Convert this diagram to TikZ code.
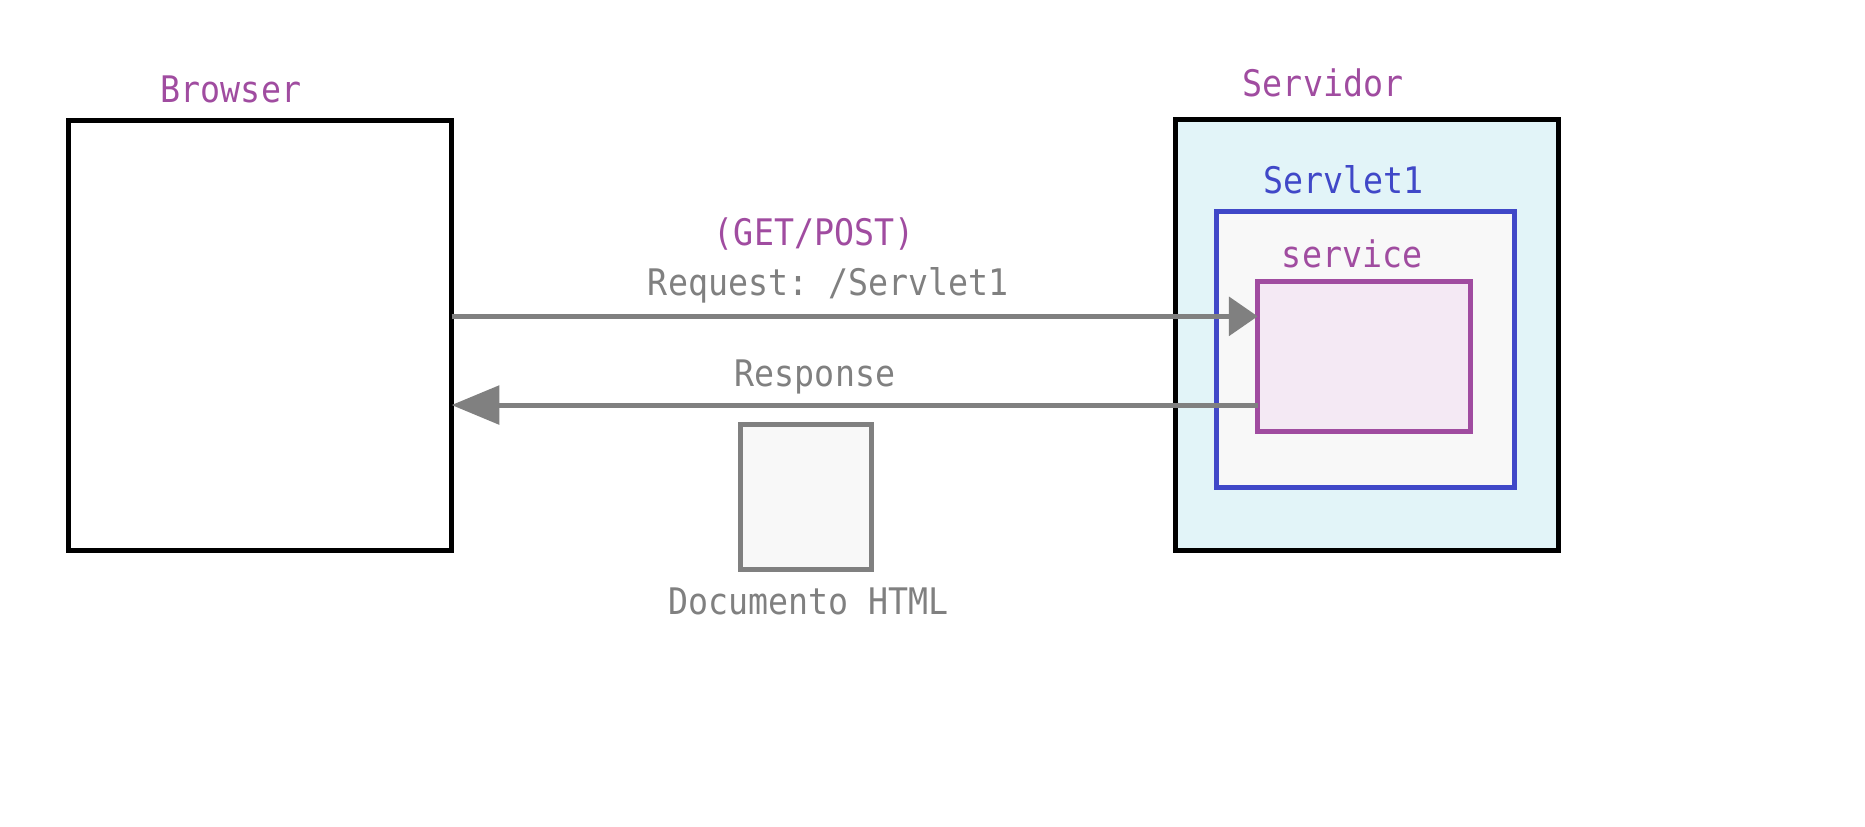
\documentclass[tikz,border=0pt]{standalone}
\usepackage{fontspec}
\setmonofont{DejaVu Sans Mono}[FakeStretch=0.91]
\usetikzlibrary{arrows.meta}
\definecolor{lblpurple}{RGB}{160,76,160}
\definecolor{lblblue}{RGB}{64,72,200}
\definecolor{linegray}{RGB}{128,128,128}
\definecolor{srvfill}{RGB}{226,244,248}
\definecolor{paper}{RGB}{248,248,248}
\definecolor{svcfill}{RGB}{244,233,244}
\begin{document}
\begin{tikzpicture}[x=0.5pt,y=-0.5pt,
  font=\ttfamily\fontsize{15.3pt}{17pt}\selectfont,
  box/.style={draw, line width=2.1pt, inner sep=0pt, outer sep=0pt, rectangle},
  lbl/.style={anchor=base, inner sep=0pt},
  conn/.style={draw=linegray, line width=2.1pt}]
\useasboundingbox (0,0) rectangle (1560,691);
% boxes
\node[box, fill=white, minimum width=160.2pt, minimum height=179.75pt] (browser) at (217.5,280.75) {};
\node[box, fill=srvfill, minimum width=160.15pt, minimum height=180pt] (servidor) at (1143.45,280.2) {};
\node[box, draw=lblblue, fill=paper, minimum width=124.6pt, minimum height=115.45pt] (servlet) at (1142.2,292.35) {};
\node[box, draw=lblpurple, fill=svcfill, minimum width=89pt, minimum height=62.75pt] (service) at (1141,298.5) {};
\node[box, draw=linegray, fill=paper, minimum width=54.75pt, minimum height=60.45pt] (doc) at (674.05,415.65) {};
% labels
\node[lbl, text=lblpurple] (browserlbl) at (193.2,85.6) {Browser};
\node[lbl, text=lblpurple] (servidorlbl) at (1106.7,80.9) {Servidor};
\node[lbl, text=lblblue] (servletlbl) at (1123.7,161.7) {Servlet1};
\node[lbl, text=lblpurple] (servicelbl) at (1131,223.6) {service};
\node[lbl, text=lblpurple] (methodlbl) at (681,205) {(GET/POST)};
\node[lbl, text=linegray] (reqlbl) at (692.9,247.3) {Request: /Servlet1};
\node[lbl, text=linegray] (reslbl) at (681.7,323.4) {Response};
\node[lbl, text=linegray] (doclbl) at (676.4,513.6) {Documento HTML};
% connectors
\coordinate (reqy) at (0,264.6);
\coordinate (resy) at (0,338.8);
\draw[conn, -{Triangle[length=12pt,width=16pt]}] (browser.east |- reqy) -- (service.west |- reqy);
\draw[conn, -{Triangle[length=20pt,width=16pt]}] (service.west |- resy) -- (browser.east |- resy);
\end{tikzpicture}
\end{document}
